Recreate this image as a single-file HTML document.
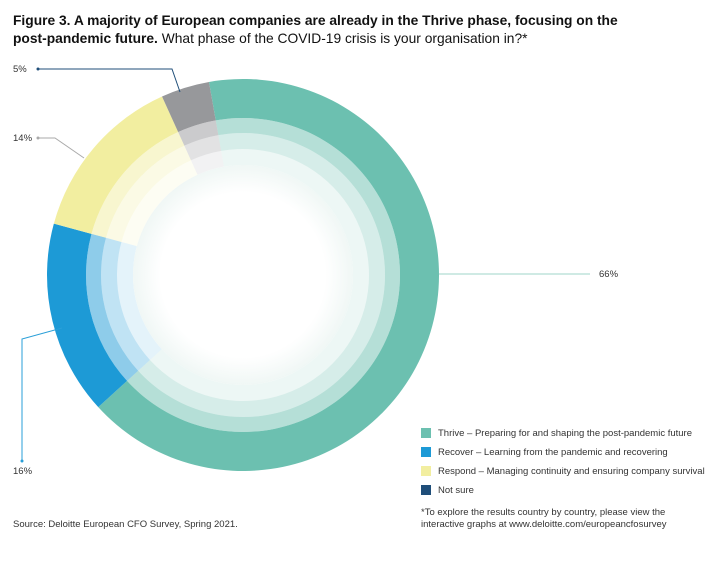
<!DOCTYPE html>
<html><head><style>
body{margin:0;width:728px;height:581px;background:#fff;font-family:"Liberation Sans",sans-serif;position:relative;overflow:hidden;color:#222}
.t{position:absolute;left:13px;top:12px;font-size:13.8px;line-height:18px;color:#111}
.s{position:absolute;font-size:9.5px;color:#333;white-space:nowrap}
</style></head><body>
<div class="t"><b>Figure 3. A majority of European companies are already in the Thrive phase, focusing on the<br>post-pandemic future.</b> What phase of the COVID-19 crisis is your organisation in?*</div>
<svg width="728" height="581" style="position:absolute;left:0;top:0">
<defs><radialGradient id="g"><stop offset="0.75" stop-color="#fff"/><stop offset="1" stop-color="#f0f7f5"/></radialGradient></defs>
<g id="d"></g>
<circle cx="243" cy="275" r="110" fill="url(#g)"/>
<g stroke-width="1" fill="none">
<polyline points="38,69 172,69 180,92" stroke="#1f4e79"/>
<polyline points="38,138 55,138 84,158" stroke="#aaa"/>
<polyline points="439,274 590,274" stroke="#9fd4ca"/>
<polyline points="62,328 22,339 22,461" stroke="#2a9fd8"/>
</g>
<circle cx="38" cy="69" r="1.5" fill="#1f4e79"/><circle cx="38" cy="138" r="1.5" fill="#aaa"/><circle cx="22" cy="461" r="1.5" fill="#2a9fd8"/>
<rect x="421" y="428" width="10" height="10" fill="#6cc0b0"/>
<rect x="421" y="447" width="10" height="10" fill="#1d9ad6"/>
<rect x="421" y="466" width="10" height="10" fill="#f2eea0"/>
<rect x="421" y="485" width="10" height="10" fill="#1f4e79"/>
</svg>
<div class="s" style="left:13px;top:64px">5%</div>
<div class="s" style="left:13px;top:133px">14%</div>
<div class="s" style="left:599px;top:269px">66%</div>
<div class="s" style="left:13px;top:466px">16%</div>
<div class="s" style="left:438px;top:428px">Thrive – Preparing for and shaping the post-pandemic future</div>
<div class="s" style="left:438px;top:447px">Recover – Learning from the pandemic and recovering</div>
<div class="s" style="left:438px;top:466px">Respond – Managing continuity and ensuring company survival</div>
<div class="s" style="left:438px;top:485px">Not sure</div>
<div class="s" style="left:421px;top:507px;line-height:12px">*To explore the results country by country, please view the<br>interactive graphs at www.deloitte.com/europeancfosurvey</div>
<div class="s" style="left:13px;top:519px">Source: Deloitte European CFO Survey, Spring 2021.</div>
<script>
var cx=243,cy=275,segs=[[-10,227.6,'#6cc0b0'],[227.6,285.2,'#1d9ad6'],[285.2,335.6,'#f2eea0'],[335.6,350,'#97989b']];
var rings=[[196,157,1],[157,142,.5],[142,126,.28],[126,110,.12]];
function p(a,r){a=a*Math.PI/180;return (cx+r*Math.sin(a)).toFixed(2)+','+(cy-r*Math.cos(a)).toFixed(2);}
var h='';
rings.forEach(function(R){segs.forEach(function(s){var l=(s[1]-s[0])>180?1:0;
h+='<path d="M'+p(s[0],R[0])+'A'+R[0]+','+R[0]+' 0 '+l+' 1 '+p(s[1],R[0])+'L'+p(s[1],R[1])+'A'+R[1]+','+R[1]+' 0 '+l+' 0 '+p(s[0],R[1])+'Z" fill="'+s[2]+'" fill-opacity="'+R[2]+'"/>';});});
document.getElementById('d').innerHTML=h;
</script>
</body></html>
